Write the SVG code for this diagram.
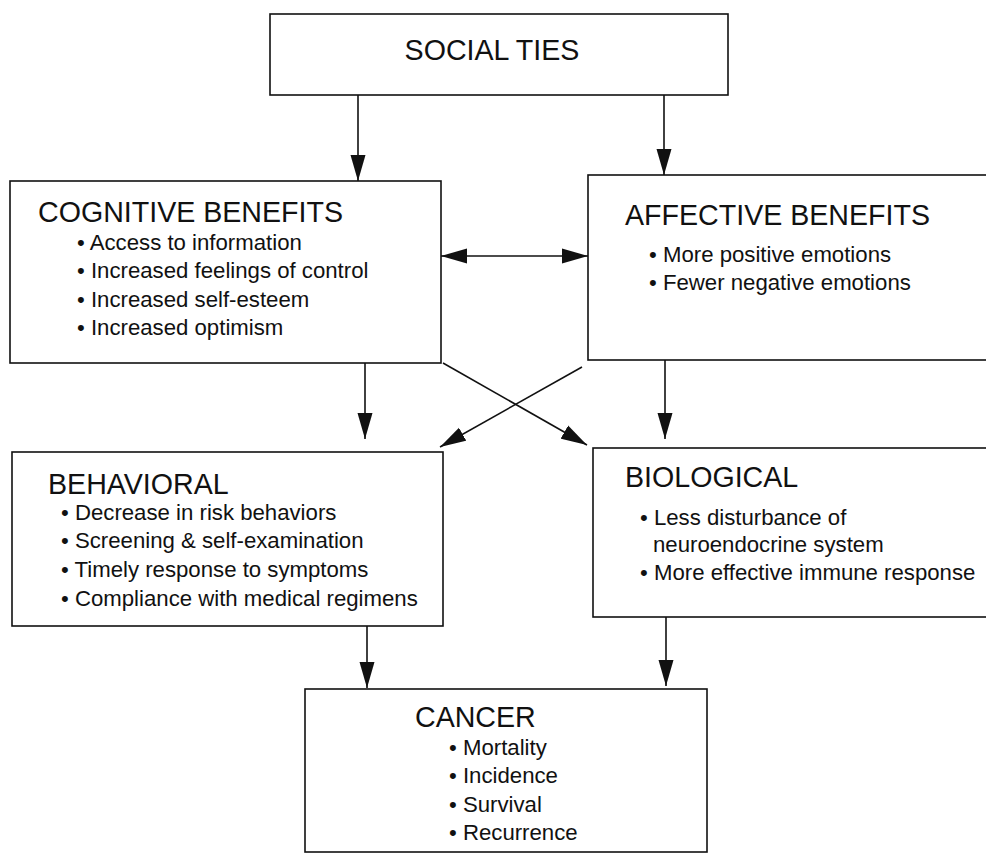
<svg xmlns="http://www.w3.org/2000/svg" width="986" height="859" viewBox="0 0 986 859">
<defs>
<marker id="ah" markerUnits="userSpaceOnUse" markerWidth="27" markerHeight="16" refX="26" refY="8" orient="auto-start-reverse" viewBox="0 0 27 16">
<path d="M0,0.5 L26,8 L0,15.5 z" fill="#111"/>
</marker>
<style>
.box{fill:#fff;stroke:#111;stroke-width:1.6}
.t{font-family:"Liberation Sans",Arial,sans-serif;font-size:28.6px;fill:#111}
.b{font-family:"Liberation Sans",Arial,sans-serif;font-size:22.2px;fill:#111}
.c{stroke:#111;stroke-width:1.6;fill:none;marker-end:url(#ah)}
</style>
</defs>
<rect width="986" height="859" fill="#fff"/>
<g id="connectors">
<line class="c" x1="358" y1="95" x2="358" y2="181"/>
<line class="c" x1="664" y1="95" x2="664" y2="175"/>
<line class="c" x1="441" y1="256" x2="588" y2="256" marker-start="url(#ah)"/>
<line class="c" x1="365" y1="363" x2="365" y2="439"/>
<line class="c" x1="665" y1="360" x2="665" y2="439"/>
<line class="c" x1="443" y1="363" x2="587" y2="445"/>
<line class="c" x1="582" y1="367" x2="440" y2="447"/>
<line class="c" x1="367" y1="626" x2="367" y2="688"/>
<line class="c" x1="666" y1="617" x2="666" y2="686"/>
</g>
<g id="social-ties">
<rect class="box" x="270" y="14" width="458" height="81"/>
<text class="t" x="492" y="60" text-anchor="middle">SOCIAL TIES</text>
</g>
<g id="cognitive-benefits">
<rect class="box" x="10" y="181" width="431" height="182"/>
<text class="t" x="38" y="222">COGNITIVE BENEFITS</text>
<text class="b" x="77" y="250">• Access to information</text>
<text class="b" x="77" y="278">• Increased feelings of control</text>
<text class="b" x="77" y="307">• Increased self-esteem</text>
<text class="b" x="77" y="335">• Increased optimism</text>
</g>
<g id="affective-benefits">
<rect class="box" x="588" y="175" width="410" height="185"/>
<text class="t" x="625" y="225">AFFECTIVE BENEFITS</text>
<text class="b" x="649" y="262">• More positive emotions</text>
<text class="b" x="649" y="290">• Fewer negative emotions</text>
</g>
<g id="behavioral">
<rect class="box" x="12" y="452" width="431" height="174"/>
<text class="t" x="48" y="494">BEHAVIORAL</text>
<text class="b" x="61" y="520">• Decrease in risk behaviors</text>
<text class="b" x="61" y="548">• Screening &amp; self-examination</text>
<text class="b" x="61" y="577">• Timely response to symptoms</text>
<text class="b" x="61" y="606">• Compliance with medical regimens</text>
</g>
<g id="biological">
<rect class="box" x="593" y="448" width="400" height="169"/>
<text class="t" x="625" y="487">BIOLOGICAL</text>
<text class="b" x="640" y="525">• Less disturbance of</text>
<text class="b" x="653" y="552">neuroendocrine system</text>
<text class="b" x="640" y="580">• More effective immune response</text>
</g>
<g id="cancer">
<rect class="box" x="305" y="689" width="402" height="163"/>
<text class="t" x="415" y="727">CANCER</text>
<text class="b" x="449" y="755">• Mortality</text>
<text class="b" x="449" y="783">• Incidence</text>
<text class="b" x="449" y="812">• Survival</text>
<text class="b" x="449" y="840">• Recurrence</text>
</g>
</svg>
